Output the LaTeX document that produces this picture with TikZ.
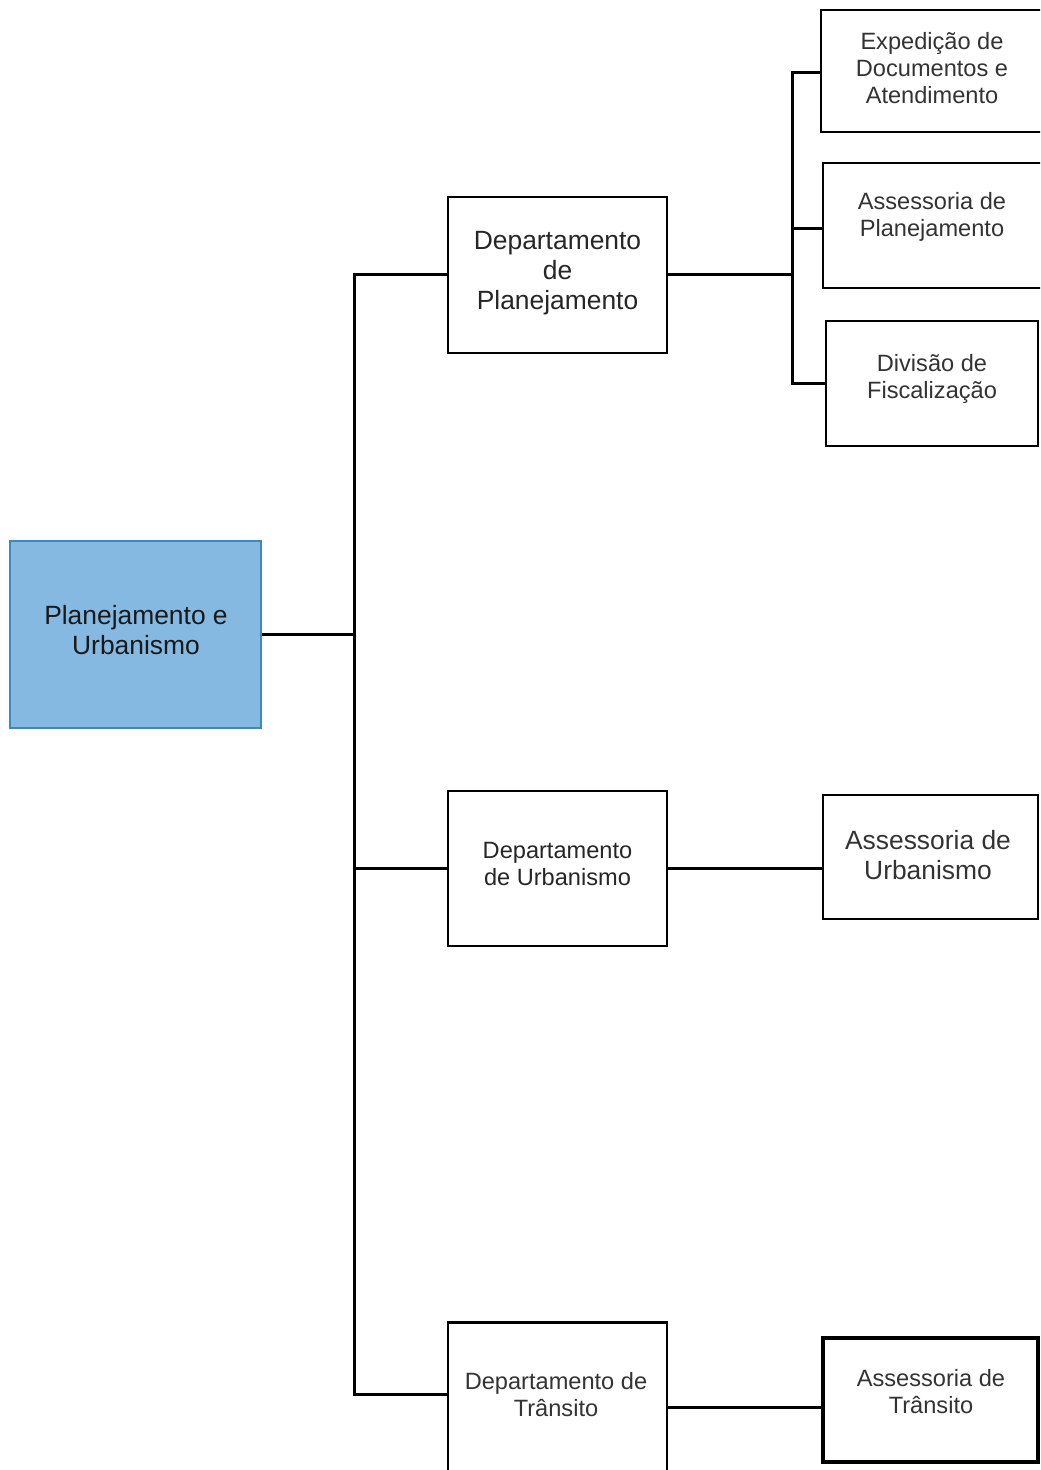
\documentclass[tikz,border=0pt]{standalone}
\usepackage{fontspec}
\setmainfont{Liberation Sans}
\definecolor{rootfill}{HTML}{85B9E2}
\definecolor{rootdraw}{HTML}{3A8AC0}
\definecolor{txt}{HTML}{333333}
\begin{document}
\begin{tikzpicture}[x=0.5pt,y=-0.5pt,
  box/.style={draw=black, line width=1.25pt, fill=white, rectangle, inner sep=0pt, align=center, text=txt},
  lbl/.style={align=center, text=txt, inner sep=0pt},
  conn/.style={draw=black, line width=1.5pt},
  big/.style={font=\fontsize{13.2pt}{15pt}\selectfont},
  small/.style={font=\fontsize{11.8pt}{13.5pt}\selectfont}]
\path[use as bounding box, clip] (0,0) rectangle (1040,1470);
\fill[white] (0,0) rectangle (1040,1470);

% root
\node[box, fill=rootfill, draw=rootdraw, minimum width=125.5pt, minimum height=93.5pt] (root) at (135.5,634.5) {};
\node[lbl, big, text=black!90] (roottext) at (136,630) {Planejamento e\\Urbanismo};

% departments
\node[box, minimum width=109.5pt, minimum height=78pt] (dp) at (557.5,275) {};
\node[lbl, big, text=black!85] (dptext) at (557.5,273) {Departamento\\de\\Planejamento};
\node[box, minimum width=109.5pt, minimum height=77.5pt] (du) at (557.5,868.5) {};
\node[lbl, small, text=black!85] (dutext) at (557.5,864) {Departamento\\de Urbanismo};
\node[box, minimum width=109.5pt, minimum height=90pt, anchor=north] (dt) at (557.5,1321) {};
\node[lbl, small] (dttext) at (556,1395) {Departamento de\\Trânsito};

% sub units
\node[box, minimum width=112pt, minimum height=61pt] (exp) at (933,71) {};
\node[lbl, small] (exptext) at (932,68) {Expedição de\\Documentos e\\Atendimento};
\node[box, minimum width=111pt, minimum height=62.5pt] (ap) at (934,225.5) {};
\node[lbl, small] (aptext) at (932,217) {Assessoria de\\Planejamento};
\node[box, minimum width=106pt, minimum height=62.5pt] (div) at (932,383.5) {};
\node[lbl, small] (divtext) at (932,379) {Divisão de\\Fiscalização};
\node[box, minimum width=107.5pt, minimum height=62pt] (au) at (930.5,857) {};
\node[lbl, big] (autext) at (928,855) {Assessoria de\\Urbanismo};
\node[box, line width=2pt, minimum width=107.5pt, minimum height=62pt] (at) at (930.5,1400) {};
\node[lbl, small] (attext) at (931,1392) {Assessoria de\\Trânsito};

% left bus
\coordinate (bt) at (354,1394);
\draw[conn] (dp.west) -| (bt) -- (bt -| dt.west);
\draw[conn] (du.west) -- (du.west -| bt);
\draw[conn] (root.east) -- (root.east -| bt);

% right bus
\coordinate (r1) at (792,73);
\draw[conn] (exp.west |- r1) -- (r1) |- (div.west);
\draw[conn] (ap.west) ++(0,3.5) coordinate (apj) (apj) -- (apj -| r1);
\draw[conn] (dp.east) -- (dp.east -| r1);
\draw[conn] (du.east) -- (du.east -| au.west);
\coordinate (tl) at (0,1407);
\draw[conn] (dt.east |- tl) -- (at.west |- tl);
\end{tikzpicture}
\end{document}
